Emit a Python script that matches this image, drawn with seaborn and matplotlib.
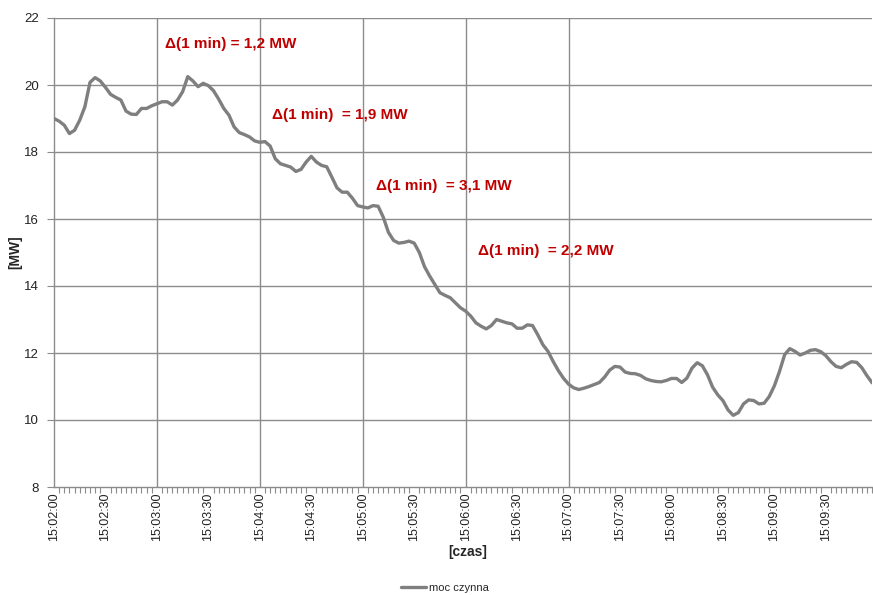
import numpy as np
import pandas as pd
import matplotlib
matplotlib.use("Agg")
import matplotlib.pyplot as plt
from matplotlib.ticker import FixedLocator, MultipleLocator
import seaborn as sns

# Active power sampled every 3 s starting at 15:02:00
start_label = "15:02:00"
step_s = 3
moc_czynna = [
    19.00, 18.92, 18.80, 18.55, 18.65, 18.95, 19.35, 20.08, 20.22, 20.12,
    19.93, 19.72, 19.63, 19.55, 19.22, 19.13, 19.12, 19.30, 19.30, 19.38,
    19.44, 19.50, 19.50, 19.40, 19.55, 19.80, 20.25, 20.12, 19.95, 20.05,
    19.98, 19.83, 19.58, 19.30, 19.10, 18.75, 18.58, 18.52, 18.45, 18.33,
    18.29, 18.31, 18.18, 17.80, 17.65, 17.60, 17.55, 17.42, 17.48, 17.70,
    17.87, 17.70, 17.60, 17.56, 17.25, 16.93, 16.80, 16.80, 16.62, 16.40,
    16.36, 16.33, 16.40, 16.38, 16.05, 15.60, 15.36, 15.28, 15.30, 15.34,
    15.28, 15.00, 14.58, 14.30, 14.05, 13.80, 13.72, 13.65, 13.50, 13.35,
    13.25, 13.10, 12.90, 12.80, 12.72, 12.82, 13.00, 12.95, 12.90, 12.87,
    12.74, 12.74, 12.84, 12.82, 12.55, 12.25, 12.05, 11.75, 11.48, 11.25,
    11.07, 10.96, 10.91, 10.95, 11.00, 11.06, 11.12, 11.28, 11.49, 11.60,
    11.58, 11.43, 11.39, 11.38, 11.33, 11.23, 11.18, 11.15, 11.14, 11.18,
    11.24, 11.24, 11.12, 11.25, 11.55, 11.71, 11.62, 11.35, 10.98, 10.75,
    10.58, 10.30, 10.14, 10.22, 10.48, 10.60, 10.58, 10.48, 10.50, 10.70,
    11.02, 11.45, 11.95, 12.13, 12.05, 11.94, 12.00, 12.08, 12.10, 12.04,
    11.92, 11.74, 11.60, 11.56, 11.66, 11.74, 11.72, 11.56, 11.32, 11.11,
]

# Time labels every 30 s along the axis
tick_labels = ["15:02:00", "15:02:30", "15:03:00", "15:03:30", "15:04:00",
               "15:04:30", "15:05:00", "15:05:30", "15:06:00", "15:06:30",
               "15:07:00", "15:07:30", "15:08:00", "15:08:30", "15:09:00",
               "15:09:30"]
minute_lines = ["15:03:00", "15:04:00", "15:05:00", "15:06:00", "15:07:00"]

# Ramp annotations: text, left edge in seconds after start, MW
ramp_texts = ["\u0394(1 min) = 1,2 MW", "\u0394(1 min)  = 1,9 MW",
              "\u0394(1 min)  = 3,1 MW", "\u0394(1 min)  = 2,2 MW"]
ramp_x = [65, 127, 188, 247]
ramp_y = [21.22, 19.10, 16.99, 15.04]


def to_seconds(label):
    h, m, s = (int(p) for p in label.split(":"))
    h0, m0, s0 = (int(p) for p in start_label.split(":"))
    return (h * 3600 + m * 60 + s) - (h0 * 3600 + m0 * 60 + s0)


t = np.arange(len(moc_czynna)) * step_s
df = pd.DataFrame({"t": t, "moc czynna": moc_czynna})

sns.set_theme(style="white")
plt.rcParams["font.family"] = ["Liberation Sans", "DejaVu Sans"]

fig = plt.figure(figsize=(8.73, 5.95), dpi=100)
ax = fig.add_axes([54 / 873, 1 - 487 / 595, 1 - 54 / 873 - 0.001, (487 - 18) / 595])

grid_col = "#8c8c8c"
for yv in range(10, 23, 2):
    ax.axhline(yv, color=grid_col, lw=1.0, zorder=1)
for lab in minute_lines:
    ax.axvline(to_seconds(lab), color=grid_col, lw=1.0, zorder=1)

sns.lineplot(data=df, x="t", y="moc czynna", ax=ax, color="#7f7f7f",
             lw=2.4, label="moc czynna", legend=False, zorder=3)

ax.set_xlim(0, t[-1])
ax.set_ylim(8, 22)
ax.set_yticks(range(8, 23, 2))
ax.set_yticklabels([str(v) for v in range(8, 23, 2)], fontsize=9.5, color="#222222")

ax.xaxis.set_major_locator(FixedLocator([to_seconds(l) for l in tick_labels]))
ax.set_xticklabels(tick_labels, rotation=90, fontsize=9, color="#222222")
ax.xaxis.set_minor_locator(MultipleLocator(step_s))
ax.tick_params(axis="x", which="major", length=0, pad=4)
ax.tick_params(axis="x", which="minor", length=4, width=0.8, color=grid_col,
               direction="out", bottom=True)
ax.tick_params(axis="y", which="major", length=5, width=0.8, color=grid_col,
               direction="out", left=True, pad=6)

for side in ["top", "right"]:
    ax.spines[side].set_visible(False)
for side in ["left", "bottom"]:
    ax.spines[side].set_color(grid_col)
    ax.spines[side].set_linewidth(1.0)

ax.set_xlabel("[czas]", fontsize=10, fontweight="bold")
ax.xaxis.set_label_coords((468 - 54) / 819, -(545 - 487) / 469)
ax.set_ylabel("[MW]", fontsize=10, fontweight="bold")
ax.yaxis.set_label_coords(-(54 - 22) / 819, (487 - 252) / 469)

for txt, xv, yv in zip(ramp_texts, ramp_x, ramp_y):
    ax.text(xv, yv, txt, color="#c00000", fontsize=11, fontweight="bold",
            ha="left", va="center", zorder=4)

handles, labels = ax.get_legend_handles_labels()
fig.legend(handles, labels, loc="center", bbox_to_anchor=(0.51, 0.012),
           frameon=False, fontsize=8, handlelength=2.2, handletextpad=0.3)

fig.savefig("out.png", dpi=100)
